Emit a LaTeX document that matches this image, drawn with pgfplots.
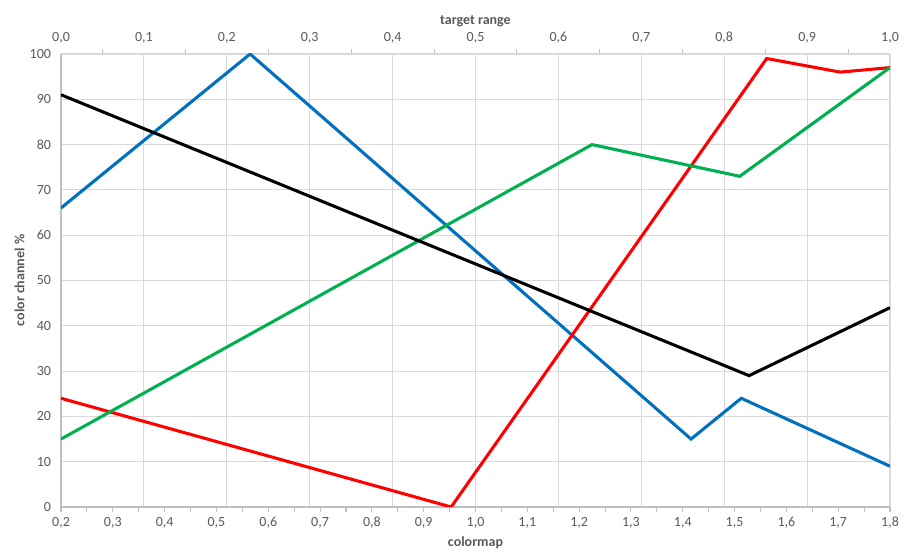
\documentclass[border=0pt]{standalone}
\usepackage{pgfplots}
\pgfplotsset{compat=1.18}
\usepackage{fontspec}
\setmainfont{Carlito}
\definecolor{xlblue}{HTML}{0070C0}
\definecolor{xlred}{HTML}{FF0000}
\definecolor{xlgreen}{HTML}{00B050}
\definecolor{txtgray}{HTML}{595959}
\definecolor{axgray}{HTML}{BFBFBF}
\definecolor{gridgray}{HTML}{D9D9D9}
\begin{document}
\begin{tikzpicture}
\path[use as bounding box] (-45.75pt,-37.5pt) rectangle (634.5pt,380.25pt);
\pgfplotsset{
  common/.style={
    scale only axis, width=621.75pt, height=339.75pt,
    at={(0,0)}, anchor=south west,
    ymin=0, ymax=100,
    tick label style={font=\fontsize{10.5}{12}\selectfont, text=txtgray},
    label style={font=\fontsize{10.5}{12}\selectfont\bfseries, text=txtgray},
    /pgf/number format/assume math mode=true,
    axis line style={axgray, line width=0.8pt},
    major tick style={axgray, line width=0.8pt},
    minor tick style={axgray, line width=0.8pt},
  }
}
% top axis with vertical grid
\begin{axis}[common,
  xmin=0, xmax=1,
  axis x line*=top, axis y line*=right,
  xtick={0,0.1,...,1.0},
  minor x tick num=1,
  xmajorgrids, grid style={gridgray, line width=0.8pt},
  major x tick style={draw=none},
  tick align=outside, minor tick length=4pt,
  xticklabel style={/pgf/number format/.cd, fixed, fixed zerofill, precision=1, use comma},
  ytick=\empty,
  y axis line style={gridgray},
  xlabel={target range},
  xlabel style={yshift=-3pt},
]
\end{axis}
\begin{axis}[common,
  xmin=0.2, xmax=1.8,
  axis x line*=bottom, axis y line*=left,
  xtick={0.2,0.3,...,1.8},
  minor x tick num=1,
  tick align=outside, major tick length=4pt, minor tick length=4pt,
  ytick={0,10,...,100},
  major y tick style={draw=none},
  ymajorgrids, grid style={gridgray, line width=0.8pt},
  xticklabel style={/pgf/number format/.cd, fixed, fixed zerofill, precision=1, use comma},
  xlabel={colormap},
  xlabel style={yshift=1pt},
  ylabel={color channel \%},
  ylabel style={yshift=-3pt},
  line join=miter,
]
\addplot[xlblue, line width=2.3pt] coordinates {(0.2,66) (0.565,100) (1.416,15) (1.513,24) (1.8,9)};
\addplot[xlred, line width=2.3pt] coordinates {(0.2,24) (0.953,0) (1.562,99) (1.704,96) (1.8,97)};
\addplot[xlgreen, line width=2.3pt] coordinates {(0.2,15) (1.225,80) (1.51,73) (1.8,97)};
\addplot[black, line width=2.3pt] coordinates {(0.2,91) (1.528,29) (1.8,44)};
\end{axis}
\end{tikzpicture}
\end{document}
